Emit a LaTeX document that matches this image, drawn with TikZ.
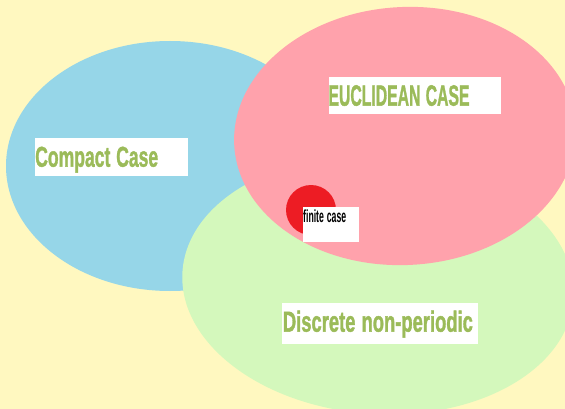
\documentclass[tikz,border=0pt]{standalone}
\usepackage{fontspec}
\setmainfont{Liberation Sans}
\newfontfamily\labelfont{Liberation Sans}[BoldFeatures={FakeBold=1.6}]
\usepackage{graphicx}
\definecolor{bgyellow}{RGB}{255,248,192}
\definecolor{setblue}{RGB}{150,214,232}
\definecolor{setpink}{RGB}{255,162,172}
\definecolor{setgreen}{RGB}{212,248,188}
\definecolor{setred}{RGB}{237,28,36}
\definecolor{olive}{RGB}{155,187,89}
\begin{document}
\begin{tikzpicture}[x=1pt,y=-1pt,
  lbl/.style={fill=white, inner sep=0pt, anchor=north west, align=left,
              text=olive, font=\labelfont\bfseries},
  smalllbl/.style={lbl, text=black, font=\bfseries}]
\useasboundingbox (0,0) rectangle (565,409);
\fill[bgyellow] (0,0) rectangle (565,409);
% sets
\fill[setblue] (170,166) ellipse [x radius=164pt, y radius=125pt];
\fill[setgreen, rotate around={-4:(378,285)}] (378,285) ellipse [x radius=196pt, y radius=129pt];
\fill[setpink, rotate around={3:(405,136)}] (405,136) ellipse [x radius=171pt, y radius=129pt];
\fill[setred] (311,210) circle [radius=25pt];
% labels
\node[lbl, text width=152.7pt, text height=28.2pt, text depth=9.5pt] (compact) at (35,138.3)
  {\resizebox{123pt}{20pt}{Compact Case}};
\node[lbl, text width=172.4pt, text height=28.2pt, text depth=8pt] (euclid) at (328.3,77.3)
  {\resizebox{141pt}{20.5pt}{EUCLIDEAN CASE}};
\node[lbl, text width=195.6pt, text height=28.5pt, text depth=12pt] (discrete) at (281.7,303)
  {\hspace*{1pt}\resizebox{190pt}{21pt}{Discrete non-periodic}};
\node[smalllbl, text width=56pt, text height=15.7pt, text depth=19.3pt] (finite) at (303,207)
  {\resizebox{43pt}{12.7pt}{finite case}};
\end{tikzpicture}
\end{document}
